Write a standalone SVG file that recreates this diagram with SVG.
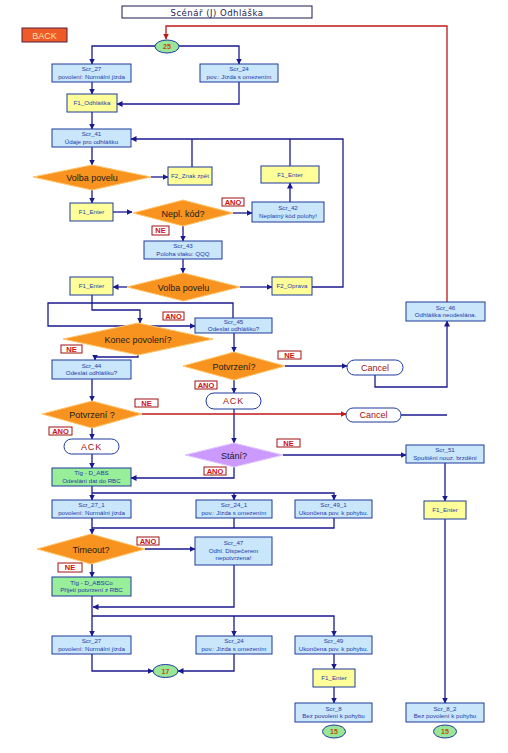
<svg xmlns="http://www.w3.org/2000/svg" width="508" height="753" viewBox="0 0 508 753">
<style>
.bx{fill:#c9e6fb;stroke:#1f3a9c;stroke-width:1}
.yl{fill:#ffff99;stroke:#1f3a9c;stroke-width:1}
.gr{fill:#99ee99;stroke:#1f3a9c;stroke-width:1}
.dm{fill:#f7931e;stroke:#ffc46a;stroke-width:1}
.pu{fill:#cc99ff;stroke:#e0c8ff;stroke-width:1}
.ov{fill:#99e699;stroke:#1f3a9c;stroke-width:1}
.tm{fill:#ffffff;stroke:#1f3a9c;stroke-width:1}
.lb{fill:#ffffff;stroke:#a01010;stroke-width:1}
.t{font-family:"Liberation Sans",Arial,sans-serif;font-size:6.2px;fill:#1f3aa8;text-anchor:middle}
.td{font-family:"Liberation Sans",Arial,sans-serif;font-size:9px;fill:#1a1a1a;text-anchor:middle}
.tl{font-family:"Liberation Sans",Arial,sans-serif;font-size:7.5px;font-weight:bold;fill:#d01010;text-anchor:middle}
.tc{font-family:"Liberation Sans",Arial,sans-serif;font-size:9px;fill:#a01010;text-anchor:middle}
.to{font-family:"Liberation Sans",Arial,sans-serif;font-size:7px;font-weight:bold;fill:#c05000;text-anchor:middle}
.c{fill:none;stroke:#1a1a90;stroke-width:1.3}
.r{fill:none;stroke:#c01818;stroke-width:1.3}
</style>
<defs>
<marker id="a" markerWidth="6" markerHeight="6" refX="5.5" refY="3" orient="auto" markerUnits="userSpaceOnUse"><path d="M0,0 L6,3 L0,6 Z" fill="#1a1a90"/></marker>
<marker id="ar" markerWidth="6" markerHeight="6" refX="5.5" refY="3" orient="auto" markerUnits="userSpaceOnUse"><path d="M0,0 L6,3 L0,6 Z" fill="#c01818"/></marker>
</defs>
<rect width="508" height="753" fill="#ffffff"/>

<g id="connectors">
<path class="r" d="M447,302 V26 H166 V39" marker-end="url(#ar)"/>
<path class="c" d="M155,46 H92 V64" marker-end="url(#a)"/>
<path class="c" d="M179,46 H239 V64" marker-end="url(#a)"/>
<path class="c" d="M92,82 V94" marker-end="url(#a)"/>
<path class="c" d="M239,82 V104 H117" marker-end="url(#a)"/>
<path class="c" d="M92,112 V129" marker-end="url(#a)"/>
<path class="c" d="M312,287 H343 V139 H131" marker-end="url(#a)"/>
<path class="c" d="M192,167 V139"/>
<path class="c" d="M290,166 V139"/>
<path class="c" d="M92,147 V165" marker-end="url(#a)"/>
<path class="c" d="M151,177 H168" marker-end="url(#a)"/>
<path class="c" d="M92,190 V203" marker-end="url(#a)"/>
<path class="c" d="M113,212 H132" marker-end="url(#a)"/>
<path class="c" d="M233,213 H252" marker-end="url(#a)"/>
<path class="c" d="M290,202 V183" marker-end="url(#a)"/>
<path class="c" d="M183,226 V241" marker-end="url(#a)"/>
<path class="c" d="M183,259 V273" marker-end="url(#a)"/>
<path class="c" d="M240,287 H272" marker-end="url(#a)"/>
<path class="c" d="M127,287 H113" marker-end="url(#a)"/>
<path class="c" d="M92,295 V310 H140 V323" marker-end="url(#a)"/>
<path class="c" d="M233,318 V303 H48 V326 H195" marker-end="url(#a)"/>
<path class="c" d="M138,355 V357 H95 V360" marker-end="url(#a)"/>
<path class="c" d="M92,379 V401" marker-end="url(#a)"/>
<path class="c" d="M234,333 V352" marker-end="url(#a)"/>
<path class="c" d="M285,366 H347" marker-end="url(#a)"/>
<path class="c" d="M234,380 V393" marker-end="url(#a)"/>
<path class="c" d="M234,409 V443" marker-end="url(#a)"/>
<path class="c" d="M375,375 V387 H447 V321" marker-end="url(#a)"/>
<path class="c" d="M401,415 H447"/>
<path class="r" d="M142,414 H346" marker-end="url(#ar)"/>
<path class="c" d="M92,428 V439" marker-end="url(#a)"/>
<path class="c" d="M92,454 V468" marker-end="url(#a)"/>
<path class="c" d="M283,455 H406" marker-end="url(#a)"/>
<path class="c" d="M234,467 V478 H131" marker-end="url(#a)"/>
<path class="c" d="M92,486 V500" marker-end="url(#a)"/>
<path class="c" d="M92,493 H334 V500" marker-end="url(#a)"/>
<path class="c" d="M234,493 V500" marker-end="url(#a)"/>
<path class="c" d="M92,518 V534" marker-end="url(#a)"/>
<path class="c" d="M334,518 V528 H92"/>
<path class="c" d="M234,518 V528"/>
<path class="c" d="M145,549 H195" marker-end="url(#a)"/>
<path class="c" d="M92,564 V577" marker-end="url(#a)"/>
<path class="c" d="M234,565 V607 H93" marker-end="url(#a)"/>
<path class="c" d="M92,596 V636" marker-end="url(#a)"/>
<path class="c" d="M92,616 H334 V636" marker-end="url(#a)"/>
<path class="c" d="M234,616 V636" marker-end="url(#a)"/>
<path class="c" d="M92,654 V671 H153" marker-end="url(#a)"/>
<path class="c" d="M234,654 V671 H178" marker-end="url(#a)"/>
<path class="c" d="M334,654 V669" marker-end="url(#a)"/>
<path class="c" d="M334,687 V703" marker-end="url(#a)"/>
<path class="c" d="M445,463 V501" marker-end="url(#a)"/>
<path class="c" d="M445,519 V703" marker-end="url(#a)"/>
</g>

<g id="title"><rect x="122" y="6" width="190" height="12" fill="#fff" stroke="#1a1a50" stroke-width="1"/><text x="217" y="15.5" font-family="'DejaVu Sans',sans-serif" font-size="8.5px" letter-spacing="0.5" fill="#1a1a50" text-anchor="middle">Scénář (J) Odhláška</text></g>
<g id="back"><rect x="22" y="28" width="45" height="14" fill="#f05a28" stroke="#502040" stroke-width="1"/><text x="44.5" y="38.5" font-family="'Liberation Sans',Arial,sans-serif" font-size="9px" fill="#ffe0a8" text-anchor="middle">BACK</text></g>
<g id="n25"><ellipse cx="167" cy="46.5" rx="12" ry="6.5" class="ov"/><text x="167" y="49" class="to">25</text></g>

<g id="scr27"><rect x="52" y="64" width="79" height="18" class="bx"/><text x="91.5" y="71" class="t">Scr_27</text><text x="91.5" y="78.5" class="t">povolení: Normální jízda</text></g>
<g id="scr24"><rect x="200" y="64" width="78" height="18" class="bx"/><text x="239" y="71" class="t">Scr_24</text><text x="239" y="78.5" class="t">pov.: Jízda s omezením</text></g>
<g id="f1odh"><rect x="67" y="94" width="50" height="18" class="yl"/><text x="92" y="105" class="t">F1_Odhláška</text></g>
<g id="scr41"><rect x="52" y="129" width="79" height="18" class="bx"/><text x="91.5" y="136" class="t">Scr_41</text><text x="91.5" y="143.5" class="t">Údaje pro odhlášku</text></g>
<g id="volba1"><polygon points="33,177 92,165 151,177 92,190" class="dm"/><text x="92" y="180.5" class="td">Volba povelu</text></g>
<g id="f2znak"><rect x="168" y="167" width="44" height="18" class="yl"/><text x="190" y="178" class="t">F2_Znak zpět</text></g>
<g id="f1enterR"><rect x="261" y="166" width="58" height="17" class="yl"/><text x="290" y="176.5" class="t">F1_Enter</text></g>
<g id="f1enter1"><rect x="70" y="203" width="43" height="18" class="yl"/><text x="91.5" y="214" class="t">F1_Enter</text></g>
<g id="nepl"><polygon points="133,213 183,200 233,213 183,226" class="dm"/><text x="183" y="216.5" class="td">Nepl. kód?</text></g>
<g id="scr42"><rect x="252" y="202" width="72" height="20" class="bx"/><text x="288" y="210" class="t">Scr_42</text><text x="288" y="217.5" class="t">Neplatný kód polohy!</text></g>
<g id="scr43"><rect x="144" y="241" width="78" height="18" class="bx"/><text x="183" y="248" class="t">Scr_43</text><text x="183" y="255.5" class="t">Poloha vlaku: QQQ</text></g>
<g id="volba2"><polygon points="127,287 183.5,273 240,287 183.5,301" class="dm"/><text x="183.5" y="290.5" class="td">Volba povelu</text></g>
<g id="f1enter2"><rect x="70" y="277" width="43" height="18" class="yl"/><text x="91.5" y="288" class="t">F1_Enter</text></g>
<g id="f2oprava"><rect x="272" y="277" width="40" height="18" class="yl"/><text x="292" y="288" class="t">F2_Oprava</text></g>
<g id="konec"><polygon points="63,339 138,323 213,339 138,355" class="dm"/><text x="138" y="342.5" class="td">Konec povolení?</text></g>
<g id="scr45"><rect x="195" y="318" width="77" height="15" class="bx"/><text x="233.5" y="324" class="t">Scr_45</text><text x="233.5" y="331" class="t">Odeslat odhlášku?</text></g>
<g id="scr44"><rect x="52" y="360" width="79" height="19" class="bx"/><text x="91.5" y="367.5" class="t">Scr_44</text><text x="91.5" y="375" class="t">Odeslat odhlášku?</text></g>
<g id="potvrz1"><polygon points="183,366 234,352 285,366 234,380" class="dm"/><text x="234" y="369.5" class="td">Potvrzení?</text></g>
<g id="cancel1"><rect x="347" y="360" width="56" height="15" rx="7.5" class="tm"/><text x="375" y="370.5" class="tc">Cancel</text></g>
<g id="scr46"><rect x="406" y="302" width="79" height="19" class="bx"/><text x="445.5" y="309.5" class="t">Scr_46</text><text x="445.5" y="317" class="t">Odhláška neodeslána.</text></g>
<g id="ack1"><rect x="206" y="393" width="55" height="16" rx="8" class="tm"/><text x="233.5" y="404" class="tc" letter-spacing="0.8">ACK</text></g>
<g id="potvrz2"><polygon points="42,414 92,401 142,414 92,428" class="dm"/><text x="92" y="417.5" class="td">Potvrzení ?</text></g>
<g id="cancel2"><rect x="346" y="408" width="55" height="14" rx="7" class="tm"/><text x="373.5" y="418" class="tc">Cancel</text></g>
<g id="ack2"><rect x="64" y="439" width="55" height="15" rx="7.5" class="tm"/><text x="91.5" y="449.5" class="tc" letter-spacing="0.8">ACK</text></g>
<g id="stani"><polygon points="185,455 234,443 283,455 234,467" class="pu"/><text x="234" y="458.5" class="td" fill="#2a2a60">Stání?</text></g>
<g id="scr51"><rect x="406" y="445" width="78" height="18" class="bx"/><text x="445" y="452" class="t">Scr_51</text><text x="445" y="459.5" class="t">Spuštění nouz. brzdění</text></g>
<g id="tlgabs"><rect x="52" y="468" width="79" height="18" class="gr"/><text x="91.5" y="475" class="t">Tlg - D_ABS</text><text x="91.5" y="482.5" class="t">Odeslání dat do RBC</text></g>
<g id="scr27_1"><rect x="52" y="500" width="79" height="18" class="bx"/><text x="91.5" y="507" class="t">Scr_27_1</text><text x="91.5" y="514.5" class="t">povolení: Normální jízda</text></g>
<g id="scr24_1"><rect x="196" y="500" width="76" height="18" class="bx"/><text x="234" y="507" class="t">Scr_24_1</text><text x="234" y="514.5" class="t">pov.: Jízda s omezením</text></g>
<g id="scr49_1"><rect x="295" y="500" width="77" height="18" class="bx"/><text x="333.5" y="507" class="t">Scr_49_1</text><text x="333.5" y="514.5" class="t">Ukončena pov. k pohybu.</text></g>
<g id="f1enter3"><rect x="424" y="501" width="42" height="18" class="yl"/><text x="445" y="512" class="t">F1_Enter</text></g>
<g id="timeout"><polygon points="37,549 91,534 145,549 91,564" class="dm"/><text x="91" y="552.5" class="td">Timeout?</text></g>
<g id="scr47"><rect x="195" y="537" width="77" height="28" class="bx"/><text x="233.5" y="545" class="t">Scr_47</text><text x="233.5" y="552.5" class="t">Odhl. Dispečerem</text><text x="233.5" y="560" class="t">nepotvrzena!</text></g>
<g id="tlgabsco"><rect x="52" y="577" width="79" height="19" class="gr"/><text x="91.5" y="584.5" class="t">Tlg - D_ABSCo</text><text x="91.5" y="592" class="t">Přijetí potvrzení z RBC</text></g>
<g id="scr27b"><rect x="52" y="636" width="79" height="18" class="bx"/><text x="91.5" y="643" class="t">Scr_27</text><text x="91.5" y="650.5" class="t">povolení: Normální jízda</text></g>
<g id="scr24b"><rect x="196" y="636" width="76" height="18" class="bx"/><text x="234" y="643" class="t">Scr_24</text><text x="234" y="650.5" class="t">pov.: Jízda s omezením</text></g>
<g id="scr49"><rect x="295" y="636" width="77" height="18" class="bx"/><text x="333.5" y="643" class="t">Scr_49</text><text x="333.5" y="650.5" class="t">Ukončena pov. k pohybu.</text></g>
<g id="n17"><ellipse cx="165.5" cy="671" rx="12.5" ry="6.5" class="ov"/><text x="165.5" y="673.5" class="to">17</text></g>
<g id="f1enter4"><rect x="313" y="669" width="42" height="18" class="yl"/><text x="334" y="680" class="t">F1_Enter</text></g>
<g id="scr8"><rect x="295" y="703" width="77" height="19" class="bx"/><text x="333.5" y="710.5" class="t">Scr_8</text><text x="333.5" y="718" class="t">Bez povolení k pohybu</text></g>
<g id="n15a"><ellipse cx="334" cy="731.5" rx="11.5" ry="6.5" class="ov"/><text x="334" y="734" class="to">15</text></g>
<g id="scr8_2"><rect x="406" y="703" width="78" height="19" class="bx"/><text x="445" y="710.5" class="t">Scr_8_2</text><text x="445" y="718" class="t">Bez povolení k pohybu</text></g>
<g id="n15b"><ellipse cx="445" cy="731.5" rx="11.5" ry="6.5" class="ov"/><text x="445" y="734" class="to">15</text></g>

<g id="labels">
<rect x="222" y="198" width="22" height="8" class="lb"/><text x="233" y="204.7" class="tl">ANO</text>
<rect x="152" y="226" width="17" height="9" class="lb"/><text x="160.5" y="233.2" class="tl">NE</text>
<rect x="163" y="312" width="21" height="8" class="lb"/><text x="173.5" y="318.7" class="tl">ANO</text>
<rect x="61" y="345" width="21" height="8" class="lb"/><text x="71.5" y="351.7" class="tl">NE</text>
<rect x="278" y="351" width="23" height="8" class="lb"/><text x="289.5" y="357.7" class="tl">NE</text>
<rect x="195" y="381" width="22" height="8" class="lb"/><text x="206" y="387.7" class="tl">ANO</text>
<rect x="135" y="399" width="23" height="8" class="lb"/><text x="146.5" y="405.7" class="tl">NE</text>
<rect x="49" y="427" width="23" height="8" class="lb"/><text x="60.5" y="433.7" class="tl">ANO</text>
<rect x="277" y="439" width="23" height="8" class="lb"/><text x="288.5" y="445.7" class="tl">NE</text>
<rect x="204" y="467" width="22" height="8" class="lb"/><text x="215" y="473.7" class="tl">ANO</text>
<rect x="137" y="537" width="22" height="8" class="lb"/><text x="148" y="543.7" class="tl">ANO</text>
<rect x="58" y="563" width="24" height="9" class="lb"/><text x="70" y="570.2" class="tl">NE</text>
</g>
</svg>
